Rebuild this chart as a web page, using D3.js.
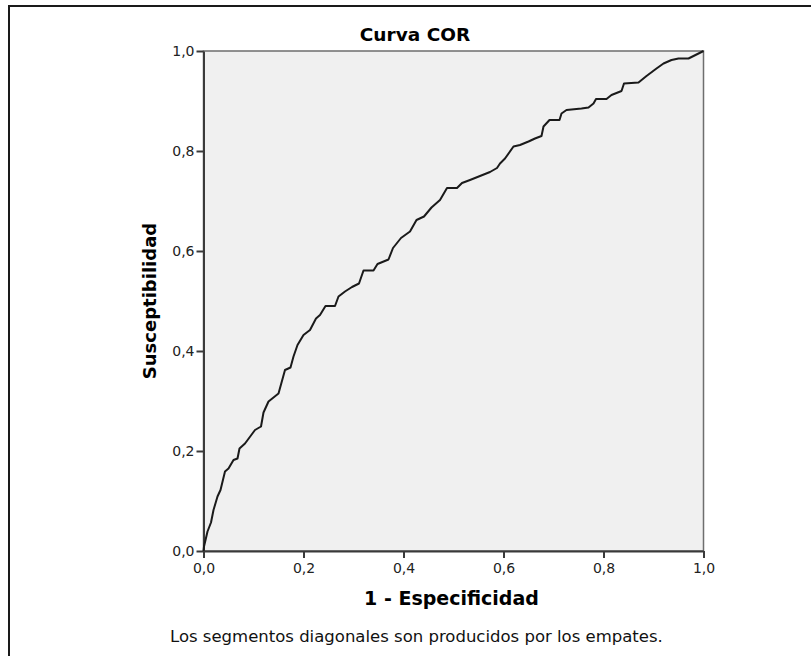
<!DOCTYPE html>
<html>
<head>
<meta charset="utf-8">
<script src="https://cdn.jsdelivr.net/npm/d3@7"></script>
<style>
  body { margin: 0; background: #fff; }
  svg { display: block; }
</style>
</head>
<body>
<div id="chart"></div>
<script>
// ROC curve points (1 - specificity, sensitivity)
const fpr = [0, 0.001, 0.008, 0.015, 0.020, 0.028, 0.034, 0.043, 0.050, 0.060, 0.068, 0.072, 0.083,
  0.103, 0.115, 0.120, 0.130, 0.150, 0.163, 0.174, 0.180, 0.188, 0.200, 0.213, 0.225, 0.233, 0.244,
  0.263, 0.270, 0.283, 0.297, 0.311, 0.320, 0.340, 0.348, 0.370, 0.379, 0.395, 0.413, 0.426, 0.441,
  0.456, 0.473, 0.487, 0.507, 0.517, 0.533, 0.553, 0.573, 0.587, 0.593, 0.603, 0.620, 0.633, 0.650,
  0.663, 0.676, 0.680, 0.692, 0.712, 0.716, 0.726, 0.756, 0.770, 0.780, 0.785, 0.806, 0.816, 0.836,
  0.841, 0.870, 0.886, 0.906, 0.920, 0.936, 0.950, 0.970, 1];
const tpr = [0, 0.009, 0.039, 0.057, 0.082, 0.109, 0.122, 0.159, 0.165, 0.182, 0.185, 0.205, 0.215,
  0.242, 0.249, 0.277, 0.299, 0.315, 0.362, 0.367, 0.389, 0.412, 0.432, 0.442, 0.465, 0.472, 0.490,
  0.490, 0.509, 0.519, 0.528, 0.535, 0.561, 0.561, 0.574, 0.583, 0.606, 0.626, 0.639, 0.662, 0.669,
  0.687, 0.702, 0.726, 0.726, 0.736, 0.742, 0.750, 0.758, 0.766, 0.775, 0.785, 0.809, 0.812, 0.819,
  0.825, 0.830, 0.849, 0.862, 0.862, 0.875, 0.882, 0.885, 0.887, 0.895, 0.904, 0.904, 0.912, 0.920,
  0.935, 0.937, 0.950, 0.965, 0.975, 0.982, 0.985, 0.985, 1];
const ticks = [0, 0.2, 0.4, 0.6, 0.8, 1.0];

const width = 811, height = 656;
const plot = { left: 203.5, top: 51, size: 500 };

const svg = d3.select('#chart').append('svg')
    .attr('width', width)
    .attr('height', height)
    .style('font-family', '"DejaVu Sans", sans-serif');

// outer frame, runs off the right and bottom edges
svg.append('rect')
    .attr('x', 9).attr('y', 6)
    .attr('width', 830).attr('height', 680)
    .attr('fill', 'none')
    .attr('stroke', '#1a1a1a')
    .attr('stroke-width', 2);

const x = d3.scaleLinear().domain([0, 1]).range([plot.left, plot.left + plot.size]);
const y = d3.scaleLinear().domain([0, 1]).range([plot.top + plot.size, plot.top]);

svg.append('rect')
    .attr('x', x(0)).attr('y', y(1))
    .attr('width', x(1) - x(0)).attr('height', y(0) - y(1))
    .attr('fill', '#f0f0f0')
    .attr('stroke', '#6e6e6e')
    .attr('stroke-width', 1.5);

const fmt = d => d3.format('.1f')(d).replace('.', ',');

const xAxis = svg.append('g')
    .attr('transform', `translate(0,${y(0)})`)
    .call(d3.axisBottom(x).tickValues(ticks).tickFormat(fmt).tickSize(7).tickSizeOuter(0));
const yAxis = svg.append('g')
    .attr('transform', `translate(${x(0)},0)`)
    .call(d3.axisLeft(y).tickValues(ticks).tickFormat(fmt).tickSize(7).tickSizeOuter(0));

[xAxis, yAxis].forEach(g => {
  g.select('.domain').attr('stroke', '#3a3a3a').attr('stroke-width', 2);
  g.selectAll('.tick line').attr('stroke', '#3a3a3a').attr('stroke-width', 2);
  g.selectAll('.tick text')
      .attr('fill', '#222')
      .style('font-size', '14px')
      .style('font-family', '"DejaVu Sans", sans-serif');
});
xAxis.selectAll('.tick text').attr('dy', '0.85em');
yAxis.selectAll('.tick text').attr('x', -9);

const line = d3.line()
    .x((d, i) => x(fpr[i]))
    .y((d, i) => y(tpr[i]));

svg.append('path')
    .datum(fpr)
    .attr('d', line)
    .attr('fill', 'none')
    .attr('stroke', '#1a1a1a')
    .attr('stroke-width', 2)
    .attr('stroke-linejoin', 'round');

svg.append('text')
    .attr('x', 415).attr('y', 41)
    .attr('text-anchor', 'middle')
    .style('font-size', '18.5px')
    .style('font-weight', 'bold')
    .text('Curva COR');

svg.append('text')
    .attr('transform', `translate(156,${y(0.5)}) rotate(-90)`)
    .attr('text-anchor', 'middle')
    .style('font-size', '18px')
    .style('font-weight', 'bold')
    .text('Susceptibilidad');

svg.append('text')
    .attr('x', 451.5).attr('y', 605)
    .attr('text-anchor', 'middle')
    .style('font-size', '19px')
    .style('font-weight', 'bold')
    .text('1 - Especificidad');

svg.append('text')
    .attr('x', 170).attr('y', 642)
    .style('font-size', '16.5px')
    .attr('fill', '#111')
    .text('Los segmentos diagonales son producidos por los empates.');
</script>
</body>
</html>
